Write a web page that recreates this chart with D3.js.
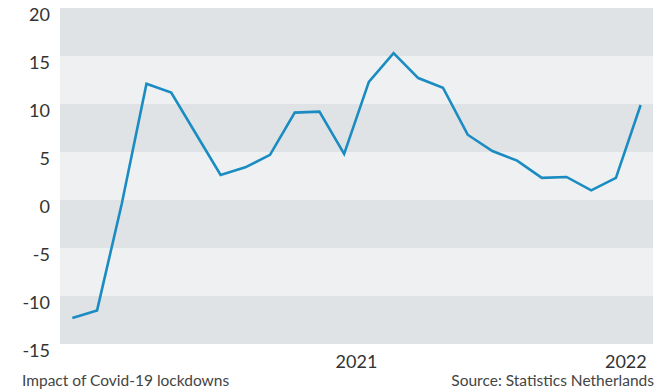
<!DOCTYPE html>
<html>
<head>
<meta charset="utf-8">
<script src="https://cdn.jsdelivr.net/npm/d3@7"></script>
<style>
  body { margin: 0; background: #fff; }
  svg { display: block; font-family: Lato, "Open Sans", sans-serif; }
</style>
</head>
<body>
<svg id="chart"></svg>
<script>
// Values (index = period)
const periods = d3.range(24);
const values = [-12.3, -11.5, -0.4, 12.1, 11.2, 6.9, 2.6, 3.4, 4.7, 9.1, 9.2, 4.8,
                12.3, 15.3, 12.7, 11.7, 6.8, 5.1, 4.1, 2.3, 2.4, 1.0, 2.3, 9.9];
const yTicks = [20, 15, 10, 5, 0, -5, -10, -15];
const xTickLabels = ["2021", "2022"];
const xTickAt = [11.5, 22.4];

const width = 668, height = 390;
const margin = {left: 60, right: 15, top: 8, bottom: 46};

const svg = d3.select("#chart").attr("width", width).attr("height", height);

const x = d3.scaleLinear()
  .domain([-0.5, periods.length - 0.5])
  .range([margin.left, width - margin.right]);

const y = d3.scaleLinear()
  .domain([-15, 20])
  .range([height - margin.bottom, margin.top]);

// alternating bands
const bands = d3.pairs(yTicks);
svg.append("g")
  .selectAll("rect")
  .data(bands)
  .join("rect")
  .attr("x", margin.left)
  .attr("width", width - margin.right - margin.left)
  .attr("y", d => y(d[0]))
  .attr("height", d => y(d[1]) - y(d[0]))
  .attr("fill", (d, i) => i % 2 === 0 ? "#e0e3e6" : "#eef0f2");

// y labels, hanging just under each band edge
svg.append("g")
  .selectAll("text")
  .data(yTicks)
  .join("text")
  .attr("x", 50)
  .attr("y", d => y(d) + 12.5)
  .attr("text-anchor", "end")
  .attr("fill", "#333")
  .attr("font-size", 18)
  .text(d => d);

// x labels
svg.append("g")
  .selectAll("text")
  .data(xTickLabels)
  .join("text")
  .attr("x", (d, i) => x(xTickAt[i]))
  .attr("y", y(-15) + 24)
  .attr("text-anchor", "middle")
  .attr("fill", "#333")
  .attr("font-size", 18)
  .text(d => d);

// line
const line = d3.line()
  .x((d, i) => x(periods[i]))
  .y(d => y(d));

svg.append("path")
  .datum(values)
  .attr("fill", "none")
  .attr("stroke", "#1a8cc2")
  .attr("stroke-width", 2.6)
  .attr("stroke-linejoin", "miter")
  .attr("d", line);

// footer
svg.append("text")
  .attr("x", 22)
  .attr("y", 386)
  .attr("fill", "#444")
  .attr("font-size", 15.5)
  .text("Impact of Covid-19 lockdowns");

svg.append("text")
  .attr("x", 654)
  .attr("y", 386)
  .attr("text-anchor", "end")
  .attr("fill", "#444")
  .attr("font-size", 15.5)
  .text("Source: Statistics Netherlands");
</script>
</body>
</html>
